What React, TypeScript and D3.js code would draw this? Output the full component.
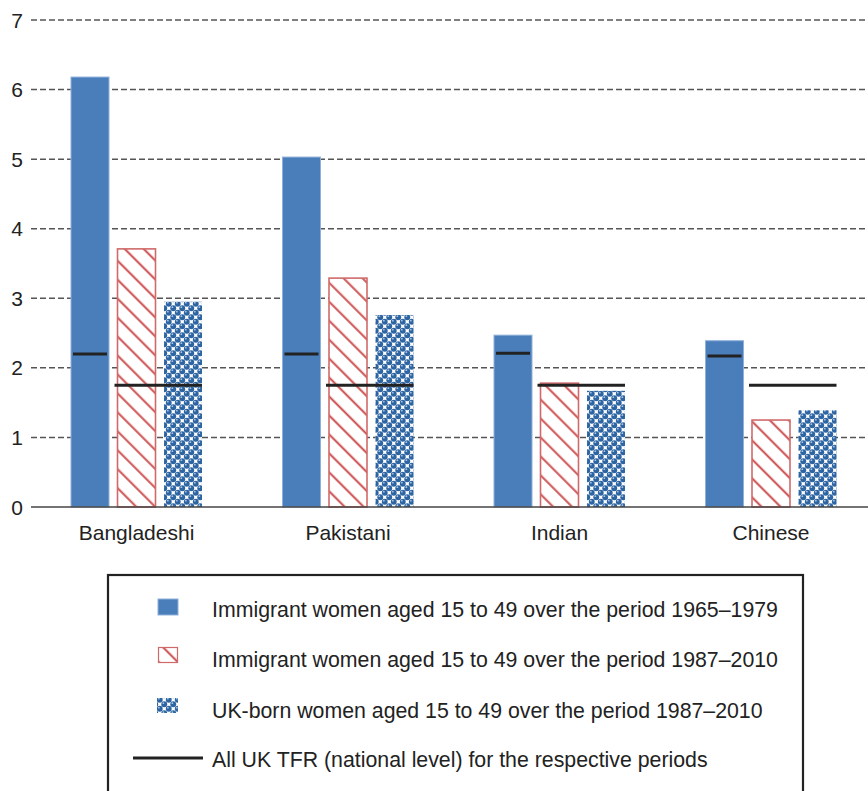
import React from "react";
import * as d3 from "d3";

const categories = ["Bangladeshi", "Pakistani", "Indian", "Chinese"];
const seriesKeys = ["imm6579", "imm8710", "ukborn8710"];
const seriesLabels = [
  "Immigrant women aged 15 to 49 over the period 1965–1979",
  "Immigrant women aged 15 to 49 over the period 1987–2010",
  "UK-born women aged 15 to 49 over the period 1987–2010",
];
const tfrLabel = "All UK TFR (national level) for the respective periods";
const immigrant6579 = [6.18, 5.03, 2.47, 2.39];
const immigrant8710 = [3.71, 3.29, 1.78, 1.25];
const ukBorn8710 = [2.95, 2.76, 1.67, 1.39];
const ukTFR6579 = [2.2, 2.2, 2.21, 2.17];
const ukTFR8710 = [1.75, 1.75, 1.75, 1.75];
const yTicks = [0, 1, 2, 3, 4, 5, 6, 7];

const seriesValues = [immigrant6579, immigrant8710, ukBorn8710];

const W = 868;
const H = 791;
const FONT = "'Liberation Sans', Arial, Helvetica, sans-serif";

export default function App() {
  const y = d3.scaleLinear().domain([0, 7]).range([507, 20]);
  const x = d3.scaleBand<string>().domain(categories).range([30.75, 876.75]).padding(0);
  const inner = d3
    .scaleBand<string>()
    .domain(seriesKeys)
    .range([0, 131])
    .paddingInner(0.183)
    .paddingOuter(0);
  const groupStart = (c: string) => (x(c) as number) + x.bandwidth() / 2 - 65.5;

  const fills = ["#4a7ebb", "url(#hatch)", "url(#dots)"];

  return (
    <svg
      width={W}
      height={H}
      style={{ position: "absolute", left: 0, top: 0, background: "#fff" }}
      fontFamily={FONT}
    >
      <defs>
        <pattern
          id="hatch"
          patternUnits="userSpaceOnUse"
          width={13.4}
          height={13.4}
          patternTransform="rotate(-45)"
        >
          <rect width={13.4} height={13.4} fill="#fff" />
          <line x1={6} y1={-1} x2={6} y2={15} stroke="#cc4f50" strokeWidth={2} />
        </pattern>
        <pattern id="dots" patternUnits="userSpaceOnUse" width={9} height={9}>
          <rect width={9} height={9} fill="#fff" />
          {[
            [2.25, 2.25],
            [6.75, 6.75],
            [6.75 - 9, 6.75],
            [6.75, 6.75 - 9],
            [6.75 - 9, 6.75 - 9],
            [2.25 + 9, 2.25],
            [2.25, 2.25 + 9],
            [2.25 + 9, 2.25 + 9],
          ].map(([cx, cy], i) => (
            <g key={i}>
              <circle cx={cx} cy={cy} r={2.95} fill="#2d64a2" />
              <circle cx={cx - 0.9} cy={cy - 1.1} r={0.9} fill="#a9c3e3" />
            </g>
          ))}
        </pattern>
      </defs>

      {/* gridlines */}
      {yTicks.map((t) =>
        t === 0 ? null : (
          <line
            key={"g" + t}
            x1={31}
            x2={W}
            y1={y(t)}
            y2={y(t)}
            stroke="#555"
            strokeWidth={1.5}
            strokeDasharray="6,3"
          />
        )
      )}
      {yTicks.map((t) => (
        <text
          key={"t" + t}
          x={23}
          y={y(t)}
          dy="0.36em"
          textAnchor="end"
          fontSize={21}
          fill="#222"
        >
          {t}
        </text>
      ))}

      {/* bars */}
      {categories.map((c, ci) => {
        const gx = groupStart(c);
        return (
          <g key={c}>
            {seriesKeys.map((k, si) => {
              const v = seriesValues[si][ci];
              const bx = gx + (inner(k) as number);
              const bw = inner.bandwidth();
              return (
                <rect
                  key={k}
                  x={bx}
                  y={y(v)}
                  width={bw}
                  height={y(0) - y(v)}
                  fill={fills[si]}
                  stroke={si === 0 ? "#8fb0da" : si === 1 ? "#d06a6a" : "none"}
                  strokeWidth={si === 1 ? 1.6 : 1}
                />
              );
            })}
            {/* TFR lines */}
            <line
              x1={gx + (inner(seriesKeys[0]) as number) + 2}
              x2={gx + (inner(seriesKeys[0]) as number) + inner.bandwidth() - 2}
              y1={y(ukTFR6579[ci])}
              y2={y(ukTFR6579[ci])}
              stroke="#222"
              strokeWidth={3}
            />
            <line
              x1={gx + (inner(seriesKeys[1]) as number) - 3}
              x2={gx + (inner(seriesKeys[2]) as number) + inner.bandwidth()}
              y1={y(ukTFR8710[ci])}
              y2={y(ukTFR8710[ci])}
              stroke="#222"
              strokeWidth={3}
            />
            <text
              x={(x(c) as number) + x.bandwidth() / 2}
              y={540}
              textAnchor="middle"
              fontSize={21}
              fill="#222"
            >
              {c}
            </text>
          </g>
        );
      })}

      {/* zero axis */}
      <line x1={31} x2={W} y1={y(0)} y2={y(0)} stroke="#444" strokeWidth={1.5} />

      {/* legend */}
      <rect x={108} y={575} width={695} height={240} fill="none" stroke="#222" strokeWidth={2.2} />
      <rect x={158} y={599} width={20} height={16} fill="#4a7ebb" stroke="#8fb0da" strokeWidth={1} />
      <rect x={158.5} y={647.5} width={19} height={15} fill="url(#hatch)" stroke="#d06a6a" strokeWidth={1.2} />
      <rect x={157} y={698} width={21} height={15} fill="url(#dots)" />
      <line x1={133} x2={203} y1={758} y2={758} stroke="#222" strokeWidth={3} />
      {[...seriesLabels, tfrLabel].map((l, i) => (
        <text key={l} x={212} y={[617, 667, 718, 767][i]} fontSize={21.3} fill="#222">
          {l}
        </text>
      ))}
    </svg>
  );
}
